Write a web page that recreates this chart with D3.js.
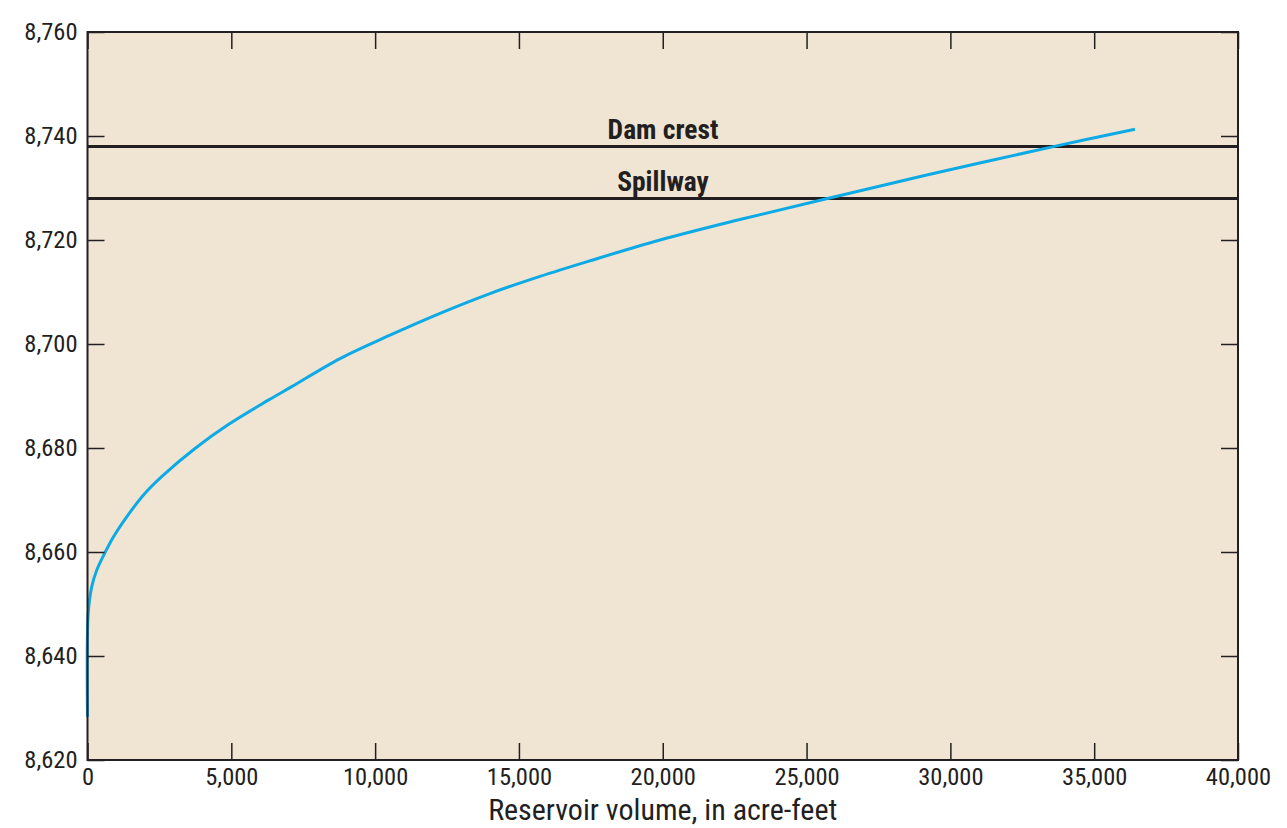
<!DOCTYPE html>
<html>
<head>
<meta charset="utf-8">
<script src="https://cdn.jsdelivr.net/npm/d3@7"></script>
<style>
  body { margin: 0; background: #fff; }
  text { font-family: "Liberation Sans Narrow", "Roboto Condensed", "Arial Narrow", sans-serif; font-stretch: condensed; fill: #231f20; }
</style>
</head>
<body>
<svg id="chart"></svg>
<script>
let w = 1287;
let h = 828;

// reservoir volume (acre-feet) and water-surface elevation (feet)
let volume = [0, 25, 146, 320, 600, 900, 1420, 2000, 2579, 3737, 4896, 6287, 7100, 8779,
  10517, 12256, 13994, 15733, 17471, 19904, 22500, 25582, 29177, 33696, 36418];
let elevation = [8628.3, 8648.2, 8653.3, 8656.5, 8659.8, 8662.9, 8667.2, 8671.3, 8674.5, 8679.9,
  8684.5, 8689.2, 8691.8, 8697.2, 8701.7, 8705.9, 8709.7, 8713.0, 8716.0, 8720.0,
  8723.7, 8727.8, 8732.5, 8738.1, 8741.3];

let refNames = ["Dam crest", "Spillway"];
let refElev = [8738, 8728];

let xTicks = [0, 5000, 10000, 15000, 20000, 25000, 30000, 35000, 40000];
let yTicks = [8620, 8640, 8660, 8680, 8700, 8720, 8740, 8760];

let mLeft = 87.5, mRight = 1238, mTop = 32, mBottom = 760;

let chart = d3.select("#chart")
  .attr("width", w)
  .attr("height", h);

let xScale = d3.scaleLinear().domain([0, 40000]).range([mLeft, mRight]);
let yScale = d3.scaleLinear().domain([8620, 8760]).range([mBottom, mTop]);

// plot background
chart.append("rect")
  .attr("x", mLeft)
  .attr("y", mTop)
  .attr("width", mRight - mLeft)
  .attr("height", mBottom - mTop)
  .attr("fill", "#f0e5d3");

// reference lines
chart.selectAll(".ref")
  .data(refElev)
  .join("line")
  .attr("class", "ref")
  .attr("x1", mLeft)
  .attr("x2", mRight)
  .attr("y1", d => yScale(d))
  .attr("y2", d => yScale(d))
  .attr("stroke", "#231f20")
  .attr("stroke-width", 3);

chart.selectAll(".refLabel")
  .data(refNames)
  .join("text")
  .attr("class", "refLabel")
  .attr("x", 663)
  .attr("y", (d, i) => yScale(refElev[i]) - 7)
  .attr("text-anchor", "middle")
  .attr("font-weight", "bold")
  .attr("font-size", 27.5)
  .text(d => d);

// capacity curve
let line = d3.line()
  .x((d, i) => xScale(volume[i]))
  .y(d => yScale(d))
  .curve(d3.curveCatmullRom.alpha(0.5));

chart.append("path")
  .datum(elevation)
  .attr("d", line)
  .attr("fill", "none")
  .attr("stroke", "#0eaae6")
  .attr("stroke-width", 3);

let fmt = d3.format(",");

// axes, ticks pointing inward
let xAxis = d3.axisBottom(xScale).tickValues(xTicks).tickFormat(fmt).tickSize(-17).tickPadding(8);
let yAxis = d3.axisLeft(yScale).tickValues(yTicks).tickFormat(fmt).tickSize(-17).tickPadding(10);
let xTop = d3.axisTop(xScale).tickValues(xTicks).tickFormat("").tickSize(-17);
let yRight = d3.axisRight(yScale).tickValues(yTicks).tickFormat("").tickSize(-17);

function styleAxis(g) {
  g.select(".domain").remove();
  g.selectAll(".tick line").attr("stroke", "#231f20").attr("stroke-width", 1.5);
  g.selectAll(".tick text").attr("font-size", 24.5).attr("font-family", null).attr("fill", null);
}

chart.append("g").attr("transform", `translate(0, ${mBottom})`).call(xAxis).call(styleAxis);
chart.append("g").attr("transform", `translate(${mLeft}, 0)`).call(yAxis).call(styleAxis);
chart.append("g").attr("transform", `translate(0, ${mTop})`).call(xTop).call(styleAxis);
chart.append("g").attr("transform", `translate(${mRight}, 0)`).call(yRight).call(styleAxis);

// frame
chart.append("rect")
  .attr("x", mLeft)
  .attr("y", mTop)
  .attr("width", mRight - mLeft)
  .attr("height", mBottom - mTop)
  .attr("fill", "none")
  .attr("stroke", "#231f20")
  .attr("stroke-width", 2);

// axis title
chart.append("text")
  .attr("x", (mLeft + mRight) / 2)
  .attr("y", 820)
  .attr("text-anchor", "middle")
  .attr("font-size", 30)
  .text("Reservoir volume, in acre-feet");
</script>
</body>
</html>
